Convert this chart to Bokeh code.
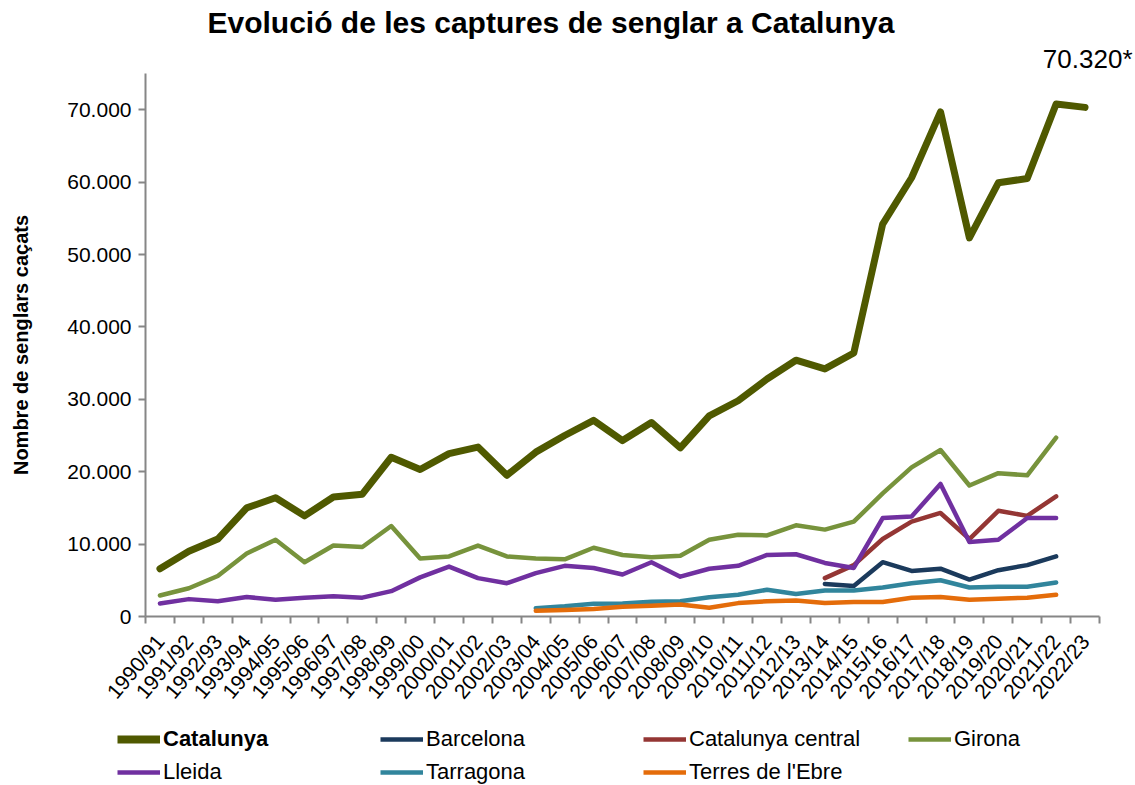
from bokeh.plotting import figure
from bokeh.models import FixedTicker, Legend, LegendItem, Range1d, Title
from bokeh.layouts import column
from bokeh.embed import file_html
from bokeh.resources import INLINE

nan = float("nan")

seasons = ["1990/91", "1991/92", "1992/93", "1993/94", "1994/95", "1995/96",
           "1996/97", "1997/98", "1998/99", "1999/00", "2000/01", "2001/02",
           "2002/03", "2003/04", "2004/05", "2005/06", "2006/07", "2007/08",
           "2008/09", "2009/10", "2010/11", "2011/12", "2012/13", "2013/14",
           "2014/15", "2015/16", "2016/17", "2017/18", "2018/19", "2019/20",
           "2020/21", "2021/22", "2022/23"]

catalunya = [6600, 9000, 10700, 15000, 16400, 13900, 16500, 16900, 22000, 20300,
             22500, 23400, 19500, 22700, 25000, 27100, 24300, 26800, 23300, 27700,
             29800, 32800, 35400, 34200, 36400, 54200, 60600, 69700, 52300, 59900,
             60500, 70800, 70320]

barcelona = [nan] * 23 + [4500, 4200, 7500, 6300, 6600, 5100, 6400, 7100, 8300, nan]

cat_central = [nan] * 23 + [5300, 7100, 10700, 13100, 14300, 10700, 14600, 13900, 16600, nan]

girona = [2900, 3900, 5600, 8700, 10600, 7500, 9800, 9600, 12500, 8000,
          8300, 9800, 8300, 8000, 7900, 9500, 8500, 8200, 8400, 10600,
          11300, 11200, 12600, 12000, 13100, 17000, 20600, 23000, 18100, 19800,
          19500, 24700, nan]

lleida = [1800, 2400, 2100, 2700, 2300, 2600, 2800, 2600, 3500, 5400,
          6900, 5300, 4600, 6000, 7000, 6700, 5800, 7500, 5500, 6600,
          7000, 8500, 8600, 7400, 6700, 13600, 13800, 18300, 10300, 10600,
          13600, 13600, nan]

tarragona = [nan] * 13 + [1150, 1400, 1750, 1800, 2050, 2100, 2650, 3000, 3700, 3100,
                          3600, 3600, 4000, 4600, 5000, 4000, 4100, 4100, 4700, nan]

terres_ebre = [nan] * 13 + [800, 900, 1050, 1350, 1500, 1650, 1200, 1850, 2100, 2200,
                            1850, 2000, 2000, 2600, 2700, 2300, 2450, 2600, 3000, nan]

y_ticks = [0, 10000, 20000, 30000, 40000, 50000, 60000, 70000]

FONT = "Liberation Sans"
AXIS_GREY = "#868686"
W = 1135
LEFT, RIGHT = 145, 36

n = len(seasons)
x = [i + 0.5 for i in range(n)]

p = figure(width=W, height=714, output_backend="svg", toolbar_location=None,
           x_range=Range1d(0, n), y_range=Range1d(0, 75000),
           min_border_left=LEFT, min_border_right=RIGHT,
           min_border_top=73, min_border_bottom=98)

p.title.text = "Evolució de les captures de senglar a Catalunya"
p.title.text_font = FONT
p.title.text_font_size = "30px"
p.title.text_font_style = "bold"
p.title.text_color = "black"
p.title.align = "left"
p.title.offset = 62
p.title.standoff = 6

last_label = f"{catalunya[-1]:,}".replace(",", ".") + "*"
p.add_layout(Title(text=last_label, align="right", offset=-33, standoff=0,
                   text_font=FONT, text_font_size="26px",
                   text_font_style="normal", text_color="black"), "above")

p.xgrid.visible = False
p.ygrid.visible = False
p.outline_line_color = None
p.background_fill_color = "white"
p.border_fill_color = "white"

# x axis
p.xaxis.ticker = FixedTicker(ticks=x, minor_ticks=list(range(n + 1)))
p.xaxis.major_label_overrides = {xi: s for xi, s in zip(x, seasons)}
p.xaxis.major_label_orientation = 0.87
p.xaxis.major_tick_out = 0
p.xaxis.major_tick_in = 0
p.xaxis.minor_tick_out = 7
p.xaxis.minor_tick_in = 0
p.xaxis.minor_tick_line_color = AXIS_GREY
p.xaxis.minor_tick_line_width = 2
p.xaxis.axis_line_color = AXIS_GREY
p.xaxis.axis_line_width = 2
p.xaxis.major_label_text_font = FONT
p.xaxis.major_label_text_font_size = "21px"
p.xaxis.major_label_text_color = "black"
p.xaxis.major_label_standoff = 14

# y axis
p.yaxis.ticker = FixedTicker(ticks=y_ticks)
p.yaxis.major_label_overrides = {v: f"{v:,}".replace(",", ".") for v in y_ticks}
p.yaxis.major_tick_out = 7
p.yaxis.major_tick_in = 0
p.yaxis.major_tick_line_color = AXIS_GREY
p.yaxis.major_tick_line_width = 2
p.yaxis.minor_tick_line_color = None
p.yaxis.axis_line_color = AXIS_GREY
p.yaxis.axis_line_width = 2
p.yaxis.major_label_text_font = FONT
p.yaxis.major_label_text_font_size = "21px"
p.yaxis.major_label_text_color = "black"
p.yaxis.major_label_standoff = 7
p.yaxis.axis_label = "Nombre de senglars caçats"
p.yaxis.axis_label_text_font = FONT
p.yaxis.axis_label_text_font_size = "20px"
p.yaxis.axis_label_text_font_style = "bold"
p.yaxis.axis_label_text_color = "black"
p.yaxis.axis_label_standoff = 32

series = [
    ("Catalunya", catalunya, "#4F5900", 7),
    ("Barcelona", barcelona, "#1B3A5C", 4.5),
    ("Catalunya central", cat_central, "#943634", 4.5),
    ("Girona", girona, "#77933C", 4.5),
    ("Lleida", lleida, "#7030A0", 4.5),
    ("Tarragona", tarragona, "#31859C", 4.5),
    ("Terres de l'Ebre", terres_ebre, "#E46C0A", 4.5),
]

for name, vals, color, lw in series[1:] + series[:1]:
    p.line(x, vals, line_color=color, line_width=lw,
           line_join="round", line_cap="round")

# legend strip below the chart (same frame edges as the chart; the series
# are drawn again here only as legend keys, outside this strip's y range)
SHIFT = 28
LH = 71
ITEM_H = 26
GAP = 7
lg = figure(width=W, height=LH, output_backend="svg", toolbar_location=None,
            x_range=Range1d(0, n), y_range=Range1d(-2, -1),
            min_border_left=LEFT, min_border_right=RIGHT, min_border_top=0,
            min_border_bottom=0, x_axis_location=None, y_axis_location=None,
            styles={"transform": f"translateX(-{SHIFT}px)"})
lg.grid.visible = False
lg.outline_line_color = None
lg.background_fill_color = "white"
lg.border_fill_color = "white"

key = {}
for name, vals, color, lw in series:
    key[name] = lg.line(x, vals, line_color=color,
                        line_width=8 if name == "Catalunya" else 4.5)


def make_legend(names, col_x, row_from_bottom, bold=False):
    leg = Legend(items=[LegendItem(label=nm, renderers=[key[nm]]) for nm in names],
                 location=(col_x + SHIFT - LEFT, row_from_bottom * (ITEM_H + GAP)),
                 orientation="vertical",
                 glyph_width=43, glyph_height=ITEM_H, label_height=ITEM_H,
                 label_standoff=3, spacing=GAP, padding=0, margin=0,
                 background_fill_alpha=0, border_line_alpha=0,
                 label_text_font=FONT, label_text_font_size="22px",
                 label_text_color="black",
                 label_text_font_style="bold" if bold else "normal")
    lg.add_layout(leg, "center")


make_legend(["Catalunya"], 117, 1, bold=True)
make_legend(["Lleida"], 117, 0)
make_legend(["Barcelona", "Tarragona"], 380, 0)
make_legend(["Catalunya central", "Terres de l'Ebre"], 643, 0)
make_legend(["Girona"], 908, 1)

open("out.html", "w").write(file_html(column(p, lg, spacing=0), INLINE))
